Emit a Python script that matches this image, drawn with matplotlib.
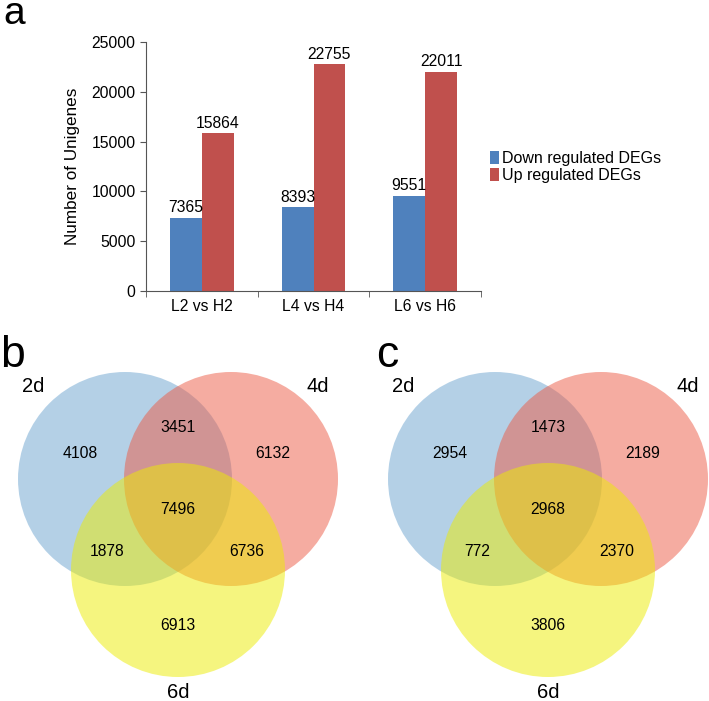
import numpy as np
import matplotlib
matplotlib.use('Agg')
import matplotlib.pyplot as plt
from matplotlib.patches import Circle

plt.rcParams['font.family'] = ['Liberation Sans', 'DejaVu Sans']

comparisons = ['L2 vs H2', 'L4 vs H4', 'L6 vs H6']
down_degs = [7365, 8393, 9551]
up_degs = [15864, 22755, 22011]
series_names = ['Down regulated DEGs', 'Up regulated DEGs']
yticks = [0, 5000, 10000, 15000, 20000, 25000]

set_names = ['2d', '4d', '6d']
# region order: only2, 2&4, only4, all, 2&6, 4&6, only6
venn_b = [4108, 3451, 6132, 7496, 1878, 6736, 6913]
venn_c = [2954, 1473, 2189, 2968, 772, 2370, 3806]

W, H = 709, 701
fig = plt.figure(figsize=(W / 100, H / 100), dpi=100)

# ---- panel a : bar chart
ax = fig.add_axes([146 / W, 1 - 291 / H, (481 - 146) / W, (291 - 42) / H])
x = np.arange(len(comparisons))
bw = 0.285
b1 = ax.bar(x - bw / 2, down_degs, bw, color='#4f81bd', label=series_names[0])
b2 = ax.bar(x + bw / 2, up_degs, bw, color='#c0504d', label=series_names[1])
for bars in (b1, b2):
    for r in bars:
        ax.text(r.get_x() + r.get_width() / 2, r.get_height() + 250, str(int(r.get_height())),
                ha='center', va='bottom', fontsize=11.3)
ax.set_xlim(-0.5, len(comparisons) - 0.5)
ax.set_ylim(0, 25000)
ax.set_yticks(yticks)
ax.set_xticks(x)
ax.set_xticklabels(comparisons, fontsize=11.3)
ax.set_xticks(np.arange(-0.5, len(comparisons), 1), minor=True)
ax.tick_params(axis='x', which='major', length=0, pad=6)
ax.tick_params(axis='x', which='minor', length=4, color='#555555')
ax.tick_params(axis='y', labelsize=11.3, length=4, color='#555555')
for s in ['top', 'right']:
    ax.spines[s].set_visible(False)
for s in ['left', 'bottom']:
    ax.spines[s].set_color('#555555')
ax.set_ylabel('Number of Unigenes', fontsize=12.3, labelpad=8)
fig.legend(handles=[b1, b2], loc='center left', bbox_to_anchor=(484 / W, 1 - 167 / H),
           frameon=False, fontsize=11.5, handlelength=0.55, handleheight=0.9,
           handletextpad=0.15, labelspacing=0.15, borderaxespad=0)
fig.text(3 / W, 1 - 24 / H, 'a', fontsize=28, ha='left', va='baseline')

# ---- panels b and c : venn diagrams on a full-figure canvas in pixel units
cv = fig.add_axes([0, 0, 1, 1])
cv.set_xlim(0, W)
cv.set_ylim(H, 0)
cv.axis('off')
cv.patch.set_alpha(0)

circle_cols = ['#6aa3cf', '#ec5a44', '#ecec00']
r = 107


def venn(x0, counts, letter, lx):
    centers = [(x0, 479), (x0 + 106, 479), (x0 + 53, 570)]
    for (cx, cy), col in zip(centers, circle_cols):
        cv.add_patch(Circle((cx, cy), r, facecolor=col, edgecolor='none', alpha=0.5))
    mid = x0 + 53
    pos = [(x0 - 45, 453), (mid, 427), (x0 + 148, 453), (mid, 510),
           (x0 - 18, 551), (x0 + 122, 551), (mid, 625)]
    for (px, py), v in zip(pos, counts):
        cv.text(px, py, str(v), ha='center', va='center', fontsize=11.3)
    cv.text(x0 - 92, 387, set_names[0], ha='center', va='center', fontsize=14.5)
    cv.text(x0 + 193, 387, set_names[1], ha='center', va='center', fontsize=14.5)
    cv.text(mid, 693, set_names[2], ha='center', va='center', fontsize=14.5)
    cv.text(lx, 367, letter, ha='left', va='baseline', fontsize=32)


venn(125, venn_b, 'b', 0)
venn(495, venn_c, 'c', 376)

fig.savefig('out.png', dpi=100)
